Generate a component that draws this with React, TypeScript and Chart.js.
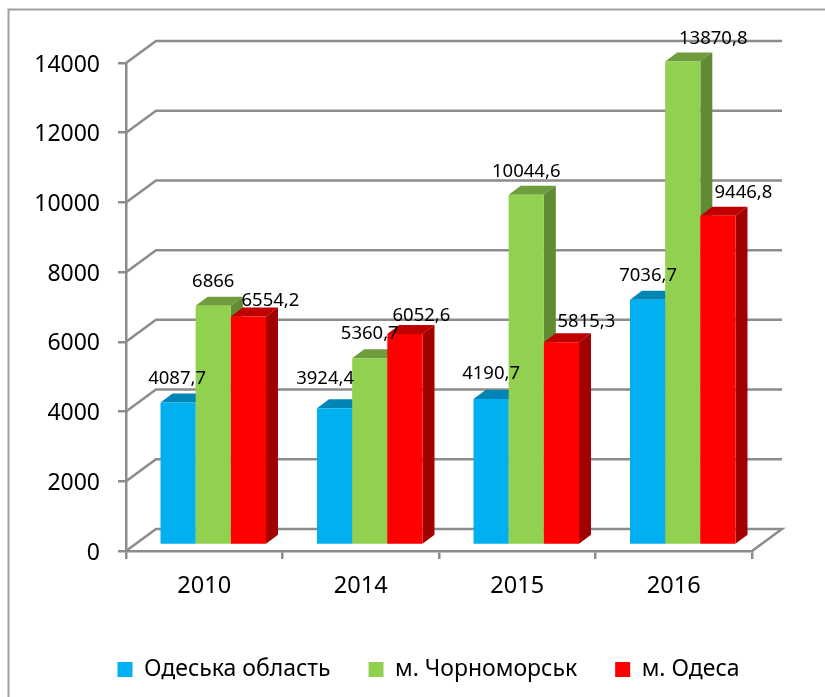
import React, { useEffect, useRef } from "react";
import { Chart, registerables } from "chart.js";

Chart.register(...registerables);

const categories = ["2010", "2014", "2015", "2016"];
const oblast = [4087.7, 3924.4, 4190.7, 7036.7];
const chornomorsk = [6866, 5360.7, 10044.6, 13870.8];
const odesa = [6554.2, 6052.6, 5815.3, 9446.8];
const seriesNames = ["Одеська область", "м. Чорноморськ", "м. Одеса"];
const faceColors = ["#00B0F0", "#92D050", "#FF0000"];
const topColors = ["#0086B6", "#6F9D3D", "#C00000"];
const sideColors = ["#0072A0", "#618A34", "#A30000"];
const labelShifts = [
  [[-1, -24], [-9.5, -29], [0, -25], [0.5, -24]],
  [[0, -24], [0, -24], [0, -23], [30.5, -23]],
  [[22, -15.5], [16.5, -18], [25, -21], [25.5, -23]],
];

const FONT = '"Noto Sans", sans-serif';
const GRID = "#8C8C8C";
const WALL = [30, -22];
const BAR_SHIFT = [9, -6];
const BAR_DEPTH = [12, -9];

const fmt = (v: number) => String(v).replace(".", ",");

const poly = (ctx: CanvasRenderingContext2D, pts: number[][], color: string) => {
  ctx.fillStyle = color;
  ctx.beginPath();
  pts.forEach((p, i) => (i ? ctx.lineTo(p[0], p[1]) : ctx.moveTo(p[0], p[1])));
  ctx.closePath();
  ctx.fill();
};

const scene = {
  id: "scene",
  afterLayout(chart: any) {
    const lg = chart.legend;
    lg.left = 32;
    lg.right = 825;
    lg.top = 620;
  },
  beforeDraw(chart: any) {
    const { ctx, canvas } = chart;
    ctx.save();
    ctx.fillStyle = "#fff";
    ctx.fillRect(0, 0, canvas.width, canvas.height);
    ctx.strokeStyle = "#A0A0A0";
    ctx.lineWidth = 2;
    ctx.strokeRect(8.5, 9.5, 900, 900);
    ctx.restore();
  },
  beforeDatasetsDraw(chart: any) {
    const { ctx, chartArea: a, scales } = chart;
    const y = scales.y;
    ctx.save();
    ctx.strokeStyle = GRID;
    ctx.lineWidth = 2.5;
    y.ticks.forEach((t: any) => {
      const py = y.getPixelForValue(t.value);
      ctx.beginPath();
      ctx.moveTo(a.left, py);
      ctx.lineTo(a.left + WALL[0], py + WALL[1]);
      ctx.lineTo(a.right + WALL[0], py + WALL[1]);
      if (t.value === 0) ctx.lineTo(a.right, py);
      ctx.stroke();
    });
    ctx.restore();
  },
  beforeDatasetDraw() {
    return false;
  },
  afterDatasetsDraw(chart: any) {
    const { ctx } = chart;
    const [dx, dy] = BAR_DEPTH;
    chart.data.datasets.forEach((_: any, i: number) => {
      const meta = chart.getDatasetMeta(i);
      ctx.save();
      ctx.translate(BAR_SHIFT[0], BAR_SHIFT[1]);
      meta.data.forEach((el: any) => {
        const p = el.getProps(["x", "y", "base", "width"], true);
        const L = p.x - p.width / 2;
        const R = p.x + p.width / 2;
        poly(ctx, [[L, p.y], [R, p.y], [R + dx, p.y + dy], [L + dx, p.y + dy]], topColors[i]);
        poly(ctx, [[R, p.y], [R + dx, p.y + dy], [R + dx, p.base + dy], [R, p.base]], sideColors[i]);
      });
      meta.controller.draw();
      ctx.restore();
    });
    ctx.save();
    ctx.font = `18.5px ${FONT}`;
    ctx.fillStyle = "#000";
    ctx.textAlign = "center";
    ctx.textBaseline = "middle";
    chart.data.datasets.forEach((ds: any, i: number) => {
      chart.getDatasetMeta(i).data.forEach((el: any, j: number) => {
        const [sx, sy] = labelShifts[i][j];
        ctx.fillText(fmt(ds.data[j]), el.x + BAR_SHIFT[0] + sx, el.y + BAR_SHIFT[1] + sy);
      });
    });
    ctx.restore();
  },
};

const values = [oblast, chornomorsk, odesa];

export default function App() {
  const ref = useRef<HTMLCanvasElement>(null);
  useEffect(() => {
    const chart = new Chart(ref.current!, {
      type: "bar",
      data: {
        labels: categories,
        datasets: values.map((data, i) => ({
          label: seriesNames[i],
          data,
          backgroundColor: faceColors[i],
          categoryPercentage: 0.674,
          barPercentage: 1,
        })),
      } as any,
      plugins: [scene],
      options: {
        responsive: false,
        animation: false,
        layout: { padding: { top: 63, right: 73 } },
        plugins: {
          tooltip: { enabled: false },
          legend: {
            position: "bottom",
            labels: {
              boxWidth: 15,
              boxHeight: 15,
              padding: 38,
              color: "#000",
              font: { family: FONT, size: 23 },
            },
          },
        },
        scales: {
          x: {
            afterFit(s: any) {
              s.height = 146 - s.chart.legend.height;
            },
            grid: { drawOnChartArea: false, color: GRID, lineWidth: 2.5, tickLength: 8, offset: true },
            border: { color: GRID, width: 2.5 },
            ticks: { color: "#000", padding: 13, font: { family: FONT, size: 23.5 } },
          },
          y: {
            min: 0,
            max: 14000,
            afterFit(s: any) {
              s.width = 126;
            },
            grid: { drawOnChartArea: false, color: GRID, lineWidth: 2.5, tickLength: 8 },
            border: { color: GRID, width: 2.5 },
            ticks: {
              stepSize: 2000,
              color: "#000",
              padding: 18,
              labelOffset: 2,
              font: { family: FONT, size: 23 },
              callback: (v: number) => String(v),
            },
          },
        },
      },
    } as any);
    return () => chart.destroy();
  }, []);
  return (
    <div style={{ position: "absolute", left: 0, top: 0 }}>
      <canvas ref={ref} width={825} height={697} style={{ display: "block" }} />
    </div>
  );
}
